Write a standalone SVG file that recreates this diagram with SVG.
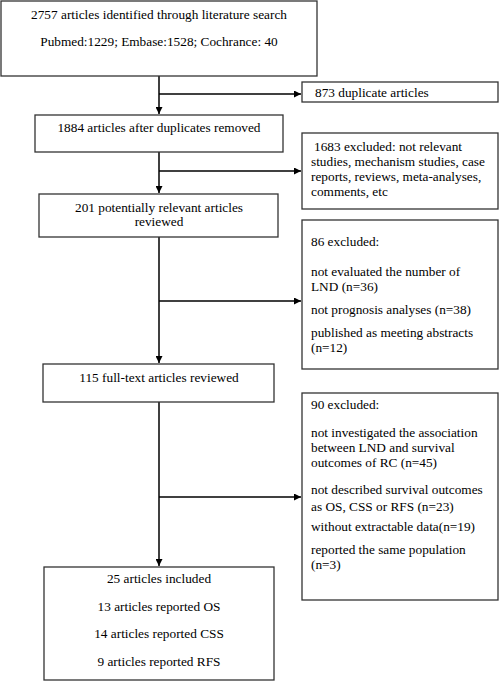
<svg xmlns="http://www.w3.org/2000/svg" width="500" height="682" viewBox="0 0 500 682">
<style>
.box{fill:#fff;stroke:#333;stroke-width:1.3}
.t{font-family:"Liberation Serif","Times New Roman",serif;font-size:13.3px;fill:#000}
.c{text-anchor:middle}
.ln{stroke:#000;stroke-width:1.5;fill:none}
</style>
<defs>
<marker id="ah" viewBox="0 0 10 10" refX="10" refY="5" markerWidth="7" markerHeight="7" markerUnits="userSpaceOnUse" orient="auto">
<path d="M0,0 L10,5 L0,10 z" fill="#000"/>
</marker>
</defs>
<g id="connectors">
<line class="ln" x1="159" y1="76" x2="159" y2="114" marker-end="url(#ah)"/>
<line class="ln" x1="159" y1="94" x2="301" y2="94" marker-end="url(#ah)"/>
<line class="ln" x1="159" y1="152" x2="159" y2="193" marker-end="url(#ah)"/>
<line class="ln" x1="159" y1="171" x2="301" y2="171" marker-end="url(#ah)"/>
<line class="ln" x1="159" y1="237" x2="159" y2="363" marker-end="url(#ah)"/>
<line class="ln" x1="159" y1="301" x2="301" y2="301" marker-end="url(#ah)"/>
<line class="ln" x1="159" y1="402" x2="159" y2="566" marker-end="url(#ah)"/>
<line class="ln" x1="159" y1="497" x2="301" y2="497" marker-end="url(#ah)"/>
</g>
<g id="n1">
<rect class="box" x="1" y="1" width="316" height="75"/>
<text class="t c" x="159" y="19">2757 articles identified through literature search</text>
<text class="t c" x="159" y="46">Pubmed:1229; Embase:1528; Cochrance: 40</text>
</g>
<g id="n2">
<rect class="box" x="302" y="82" width="196" height="20"/>
<text class="t" x="315" y="97">873 duplicate articles</text>
</g>
<g id="n3">
<rect class="box" x="35" y="115" width="248" height="37"/>
<text class="t c" x="159" y="132">1884 articles after duplicates removed</text>
</g>
<g id="n4">
<rect class="box" x="302" y="133" width="196" height="76"/>
<text class="t" x="314" y="151">1683 excluded: not relevant</text>
<text class="t" x="311" y="166">studies, mechanism studies, case</text>
<text class="t" x="311" y="181">reports, reviews,  meta-analyses,</text>
<text class="t" x="311" y="196">comments, etc</text>
</g>
<g id="n5">
<rect class="box" x="39" y="194" width="239" height="43"/>
<text class="t c" x="159" y="212">201 potentially relevant articles</text>
<text class="t c" x="159" y="226">reviewed</text>
</g>
<g id="n6">
<rect class="box" x="302" y="220" width="196" height="149"/>
<text class="t" x="311" y="246">86 excluded:</text>
<text class="t" x="311" y="276">not evaluated the number of</text>
<text class="t" x="311" y="291">LND (n=36)</text>
<text class="t" x="311" y="314">not prognosis analyses (n=38)</text>
<text class="t" x="311" y="337">published as meeting abstracts</text>
<text class="t" x="311" y="352">(n=12)</text>
</g>
<g id="n7">
<rect class="box" x="43" y="364" width="231" height="38"/>
<text class="t c" x="159" y="382">115 full-text articles reviewed</text>
</g>
<g id="n8">
<rect class="box" x="302" y="393" width="196" height="207"/>
<text class="t" x="311" y="409">90 excluded:</text>
<text class="t" x="311" y="437">not investigated the association</text>
<text class="t" x="311" y="452">between LND and survival</text>
<text class="t" x="311" y="467">outcomes of RC (n=45)</text>
<text class="t" x="311" y="494">not described survival outcomes</text>
<text class="t" x="311" y="511">as OS, CSS or RFS (n=23)</text>
<text class="t" x="311" y="531">without extractable data(n=19)</text>
<text class="t" x="311" y="554">reported the same population</text>
<text class="t" x="311" y="569">(n=3)</text>
</g>
<g id="n9">
<rect class="box" x="44" y="567" width="230" height="113"/>
<text class="t c" x="159" y="583">25 articles included</text>
<text class="t c" x="159" y="611">13 articles reported OS</text>
<text class="t c" x="159" y="638">14 articles reported CSS</text>
<text class="t c" x="159" y="666">9 articles reported RFS</text>
</g>
</svg>
